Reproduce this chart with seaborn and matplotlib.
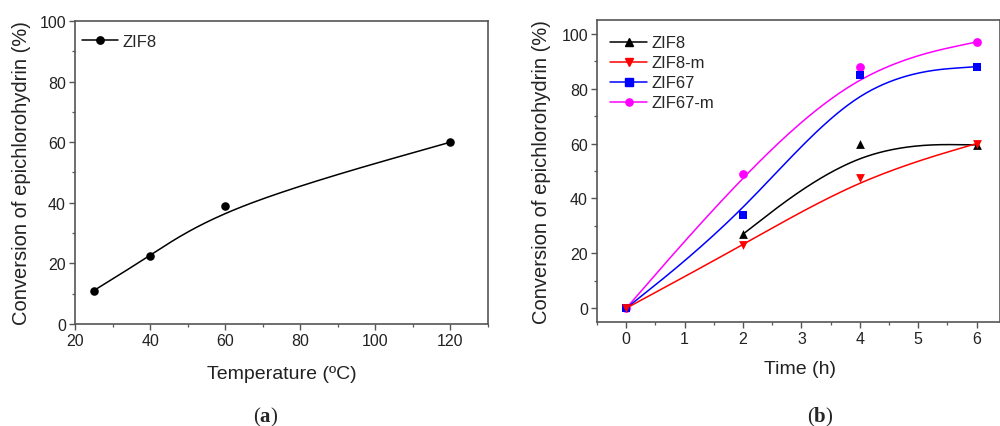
import numpy as np
import pandas as pd
import matplotlib
matplotlib.use("Agg")
import matplotlib.pyplot as plt
from matplotlib.lines import Line2D
import seaborn as sns

# ---------------- data ----------------
temperature = [25, 40, 60, 120]
conv_temp = [11, 22.5, 39, 60]

time_zif8 = [2, 4, 6]
conv_zif8 = [27, 60, 59.5]
time_all = [0, 2, 4, 6]
conv_zif8m = [0, 23, 47.5, 60]
conv_zif67 = [0, 34, 85, 88]
conv_zif67m = [0, 49, 88, 97]

series_names = ["ZIF8", "ZIF8-m", "ZIF67", "ZIF67-m"]

# ---------------- style ----------------
sns.set_style("ticks")
plt.rcParams["font.family"] = ["Liberation Sans", "DejaVu Sans"]
plt.rcParams["mathtext.fontset"] = "custom"
plt.rcParams["mathtext.rm"] = "Liberation Serif"
plt.rcParams["mathtext.bf"] = "Liberation Serif:bold"


def bspline_curve(xc, yc, n=60):
    """Uniform cubic B-spline using the data points as control points
    (end points repeated so the curve starts/ends on them, like Origin's B-spline line)."""
    xc = np.asarray(xc, float)
    yc = np.asarray(yc, float)
    px = np.concatenate([[xc[0]] * 2, xc, [xc[-1]] * 2])
    py = np.concatenate([[yc[0]] * 2, yc, [yc[-1]] * 2])
    t = np.linspace(0, 1, n)
    b0 = (1 - t) ** 3 / 6
    b1 = (3 * t ** 3 - 6 * t ** 2 + 4) / 6
    b2 = (-3 * t ** 3 + 3 * t ** 2 + 3 * t + 1) / 6
    b3 = t ** 3 / 6
    xs, ys = [], []
    for j in range(len(px) - 3):
        xs.append(b0 * px[j] + b1 * px[j + 1] + b2 * px[j + 2] + b3 * px[j + 3])
        ys.append(b0 * py[j] + b1 * py[j + 1] + b2 * py[j + 2] + b3 * py[j + 3])
    return np.concatenate(xs), np.concatenate(ys)


fig = plt.figure(figsize=(10, 4.27), dpi=100)
axL = fig.add_axes([0.075, 0.239, 0.413, 0.7096])
axR = fig.add_axes([0.597, 0.2436, 0.403, 0.7073])

spine_col = "#555555"
tick_col = "#222222"

for ax in (axL, axR):
    for s in ax.spines.values():
        s.set_color(spine_col)
        s.set_linewidth(1.2)
        s.set_visible(True)
    ax.tick_params(which="major", direction="out", length=4, width=1.0,
                   color=spine_col, labelsize=11.5, labelcolor=tick_col,
                   top=False, right=False, pad=2.5)
    ax.tick_params(which="minor", direction="out", length=2.5, width=0.9,
                   color=spine_col, top=False, right=False)

# ---------------- panel (a) ----------------
cx, cy = bspline_curve(temperature, conv_temp)
sns.lineplot(x=cx, y=cy, ax=axL, color="black", lw=1.1, sort=False, estimator=None)
sns.scatterplot(x=temperature, y=conv_temp, ax=axL, color="black", marker="o",
                s=38, linewidth=0, zorder=3)
axL.set_xlim(20, 130)
axL.set_ylim(0, 100)
axL.set_xticks(np.arange(20, 121, 20))
axL.set_xticks(np.arange(30, 131, 20), minor=True)
axL.set_yticks(np.arange(0, 101, 20))
axL.set_yticks(np.arange(10, 100, 20), minor=True)
axL.set_xlabel("Temperature (ºC)", fontsize=14, color=tick_col)
axL.set_ylabel("Conversion of epichlorohydrin (%)", fontsize=14.5, color=tick_col)
axL.xaxis.set_label_coords(0.5, -0.135)
axL.yaxis.set_label_coords(-0.107, 0.5)
hL = [Line2D([], [], color="black", lw=1.1, marker="o", markersize=5.3)]
axL.legend(hL, ["ZIF8"], loc="upper left", bbox_to_anchor=(0.008, 0.968),
           frameon=False, fontsize=12, handlelength=2.2, handletextpad=0.25,
           borderpad=0.2, borderaxespad=0)

# ---------------- panel (b) ----------------
time_series = [time_zif8, time_all, time_all, time_all]
conv_series = [conv_zif8, conv_zif8m, conv_zif67, conv_zif67m]
colors = ["black", "#ff0000", "#0000ff", "#ff00ff"]
markers = ["^", "v", "s", "o"]
sizes = [40, 40, 32, 40]
draw_order = [3, 2, 0, 1]
for i in draw_order:
    cx, cy = bspline_curve(time_series[i], conv_series[i])
    sns.lineplot(x=cx, y=cy, ax=axR, color=colors[i], lw=1.1, sort=False,
                 estimator=None, zorder=2)
for i in draw_order:
    sns.scatterplot(x=time_series[i], y=conv_series[i], ax=axR, color=colors[i],
                    marker=markers[i], s=sizes[i], linewidth=0, zorder=3)

axR.set_xlim(-0.5, 6.4)
axR.set_ylim(-5, 105)
axR.set_xticks(np.arange(0, 7, 1))
axR.set_xticks(np.arange(-0.5, 6.5, 1), minor=True)
axR.set_yticks(np.arange(0, 101, 20))
axR.set_yticks(np.arange(10, 100, 20), minor=True)
axR.set_xlabel("Time (h)", fontsize=14, color=tick_col)
axR.set_ylabel("Conversion of epichlorohydrin (%)", fontsize=14.5, color=tick_col)
axR.xaxis.set_label_coords(0.504, -0.125)
axR.yaxis.set_label_coords(-0.115, 0.5)
hR = [Line2D([], [], color=c, lw=1.1, marker=m, markersize=5.2)
      for c, m in zip(colors, markers)]
axR.legend(hR, series_names, loc="upper left", bbox_to_anchor=(0.025, 0.96),
           frameon=False, fontsize=12, handlelength=2.2, handletextpad=0.25,
           labelspacing=0.3, borderpad=0.2, borderaxespad=0)

# ---------------- panel labels ----------------
fig.text(0.266, -0.004, r"($\mathbf{a}$)", fontsize=15, ha="center", va="bottom",
         family="Liberation Serif")
fig.text(0.82, -0.004, r"($\mathbf{b}$)", fontsize=15, ha="center", va="bottom",
         family="Liberation Serif")

fig.savefig("out.png", dpi=100)
